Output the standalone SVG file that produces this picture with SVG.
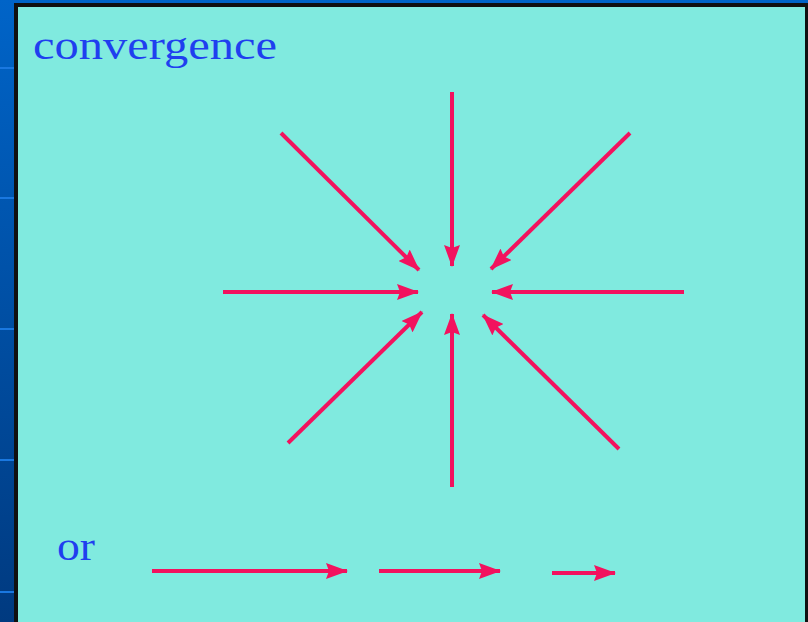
<svg xmlns="http://www.w3.org/2000/svg" width="808" height="622" viewBox="0 0 808 622">
<defs>
<linearGradient id="side" x1="0" y1="0" x2="0" y2="1">
<stop offset="0" stop-color="#0064c8"/>
<stop offset="1" stop-color="#003a80"/>
</linearGradient>
<marker id="ah" viewBox="0 0 22 16" refX="21" refY="8" markerWidth="22" markerHeight="16" markerUnits="userSpaceOnUse" orient="auto">
<path d="M0,0 L22,8 L0,16 L3,8 z" fill="#f2125e"/>
</marker>
<style>
.arr{stroke:#f2125e;stroke-width:4;fill:none;marker-end:url(#ah)}
.lbl{font-family:"Liberation Serif","Times New Roman",serif;fill:#1f3fef;font-size:41px}
</style>
</defs>
<rect x="0" y="0" width="808" height="622" fill="url(#side)"/>
<g fill="#1a78e0">
<rect x="0" y="67" width="14" height="2"/>
<rect x="0" y="197" width="14" height="2"/>
<rect x="0" y="328" width="14" height="2"/>
<rect x="0" y="459" width="14" height="2"/>
<rect x="0" y="591" width="14" height="2"/>
</g>
<rect x="14" y="3" width="794" height="619" fill="#101010"/>
<rect x="18" y="7" width="787" height="615" fill="#80eadf"/>
<g id="label-convergence"><text class="lbl" x="33" y="59" textLength="244" lengthAdjust="spacingAndGlyphs">convergence</text></g>
<g id="label-or"><text class="lbl" x="57" y="560" textLength="38" lengthAdjust="spacingAndGlyphs">or</text></g>
<g id="connectors">
<line class="arr" x1="452" y1="92" x2="452" y2="266"/>
<line class="arr" x1="452" y1="487" x2="452" y2="314"/>
<line class="arr" x1="223" y1="292" x2="418" y2="292"/>
<line class="arr" x1="684" y1="292" x2="492" y2="292"/>
<line class="arr" x1="281" y1="133" x2="419" y2="270"/>
<line class="arr" x1="630" y1="133" x2="491" y2="269"/>
<line class="arr" x1="288" y1="443" x2="422" y2="312"/>
<line class="arr" x1="619" y1="449" x2="483" y2="315"/>
<line class="arr" x1="152" y1="571" x2="347" y2="571"/>
<line class="arr" x1="379" y1="571" x2="500" y2="571"/>
<line class="arr" x1="552" y1="573" x2="615" y2="573"/>
</g>
</svg>
